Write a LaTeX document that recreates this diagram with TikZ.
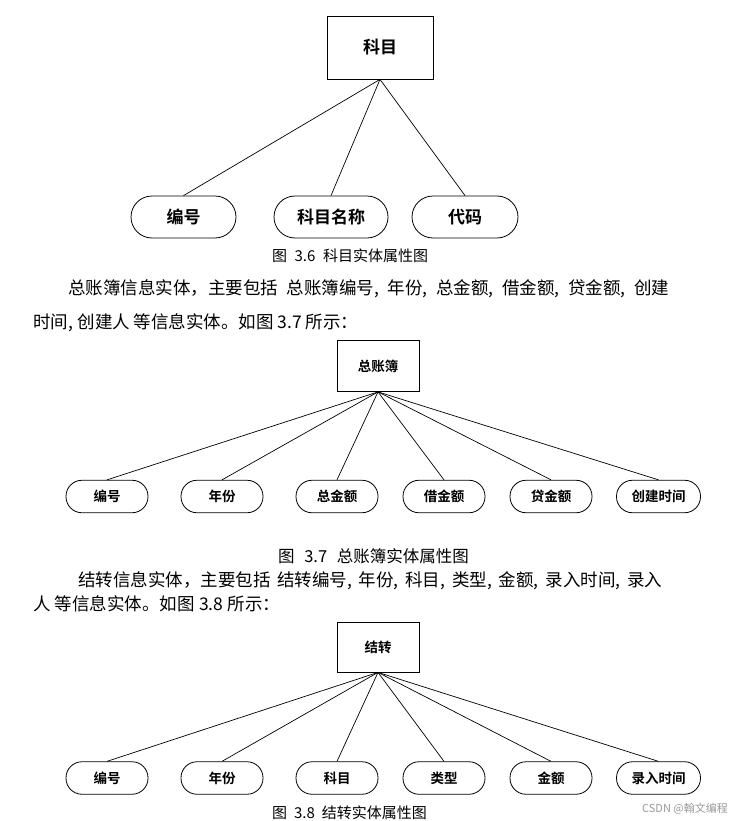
\documentclass[tikz,border=0pt]{standalone}
\usepackage{fontspec}
\newfontfamily\cjk{Noto Sans CJK SC}
\newfontfamily\cjkb{Noto Sans CJK SC Bold}
\usetikzlibrary{positioning}
\newcommand\wsp{\spaceskip=0.5em plus 1em minus 0.4em\relax}
\tikzset{
  entbig/.style={draw=black, line width=0.8bp, rectangle, inner sep=0pt, font=\cjkb\fontsize{17bp}{20bp}\selectfont},
  ent/.style={draw=black, line width=0.8bp, rectangle, inner sep=0pt, minimum width=82bp, font=\cjkb\fontsize{13.5bp}{16bp}\selectfont},
  attrbig/.style={draw=black, line width=0.8bp, rectangle, rounded corners=21bp, inner sep=0pt, minimum height=42bp, font=\cjkb\fontsize{17bp}{20bp}\selectfont},
  attr/.style={draw=black, line width=0.8bp, rectangle, rounded corners=16bp, inner sep=0pt, minimum height=32.5bp, minimum width=82bp, font=\cjkb\fontsize{13.5bp}{16bp}\selectfont},
  link/.style={draw=black, line width=0.7bp},
  para/.style={anchor=west, inner sep=0pt, font=\cjk\fontsize{17.5bp}{20bp}\selectfont\wsp},
  capt/.style={inner sep=0pt, font=\cjk\fontsize{15bp}{17bp}\selectfont\wsp},
}
\begin{document}
\begin{tikzpicture}[x=1bp, y=-1bp]
\useasboundingbox[fill=white] (0,0) rectangle (744,821);

% ---- Figure 3.6
\node[entbig, minimum width=106bp, minimum height=63bp] (km) at (380,47.5) {科目};
\node[attrbig, minimum width=105bp] (km1) at (183.5,217) {编号};
\node[attrbig, minimum width=114bp] (km2) at (331,217) {科目名称};
\node[attrbig, minimum width=106bp] (km3) at (465,217) {代码};
\foreach \n in {km1,km2,km3} \draw[link] (km.south) -- (\n.north);
\node[capt] (c36) at (350,256) {\makebox[156bp][s]{图 3.6 科目实体属性图}};

% ---- paragraph 1
\node[para] (p1a) at (68,289) {\makebox[601bp][s]{总账簿信息实体，主要包括 总账簿编号, 年份, 总金额, 借金额, 贷金额, 创建}};
\node[para] (p1b) at (33,323) {\makebox[325bp][s]{时间, 创建人 等信息实体。如图 3.7 所示：}};

% ---- Figure 3.7
\node[ent, minimum height=51bp] (zz) at (378,366) {总账簿};
\node[attr] (z1) at (107,496.5) {编号};
\node[attr] (z2) at (222,496.5) {年份};
\node[attr] (z3) at (337,496.5) {总金额};
\node[attr] (z4) at (444,496.5) {借金额};
\node[attr] (z5) at (551,496.5) {贷金额};
\node[attr, minimum width=84bp] (z6) at (658.5,496.5) {创建时间};
\foreach \n in {z1,z2,z3,z4,z5,z6} \draw[link] (zz.south) -- (\n.north);
\node[capt, font=\cjk\fontsize{16.5bp}{19bp}\selectfont\wsp] (c37) at (373.5,556) {\makebox[191bp][s]{图 3.7 总账簿实体属性图}};

% ---- paragraph 2
\node[para] (p2a) at (78,581) {\makebox[584bp][s]{结转信息实体，主要包括 结转编号, 年份, 科目, 类型, 金额, 录入时间, 录入}};
\node[para] (p2b) at (33,604) {\makebox[247bp][s]{人 等信息实体。如图 3.8 所示：}};

% ---- Figure 3.8
\node[ent, minimum height=50bp] (jz) at (378,647) {结转};
\node[attr] (j1) at (107,778) {编号};
\node[attr] (j2) at (222,778) {年份};
\node[attr] (j3) at (337,778) {科目};
\node[attr] (j4) at (444,778) {类型};
\node[attr] (j5) at (551,778) {金额};
\node[attr, minimum width=84bp] (j6) at (658.5,778) {录入时间};
\foreach \n in {j1,j2,j3,j4,j5,j6} \draw[link] (jz.south) -- (\n.north);
\node[capt] (c38) at (349.5,813) {\makebox[155bp][s]{图 3.8 结转实体属性图}};

% watermark
\node[inner sep=0pt, text=black!40, font=\cjk\fontsize{11bp}{13bp}\selectfont] (wm) at (685,809) {CSDN @翰文编程};
\end{tikzpicture}
\end{document}
